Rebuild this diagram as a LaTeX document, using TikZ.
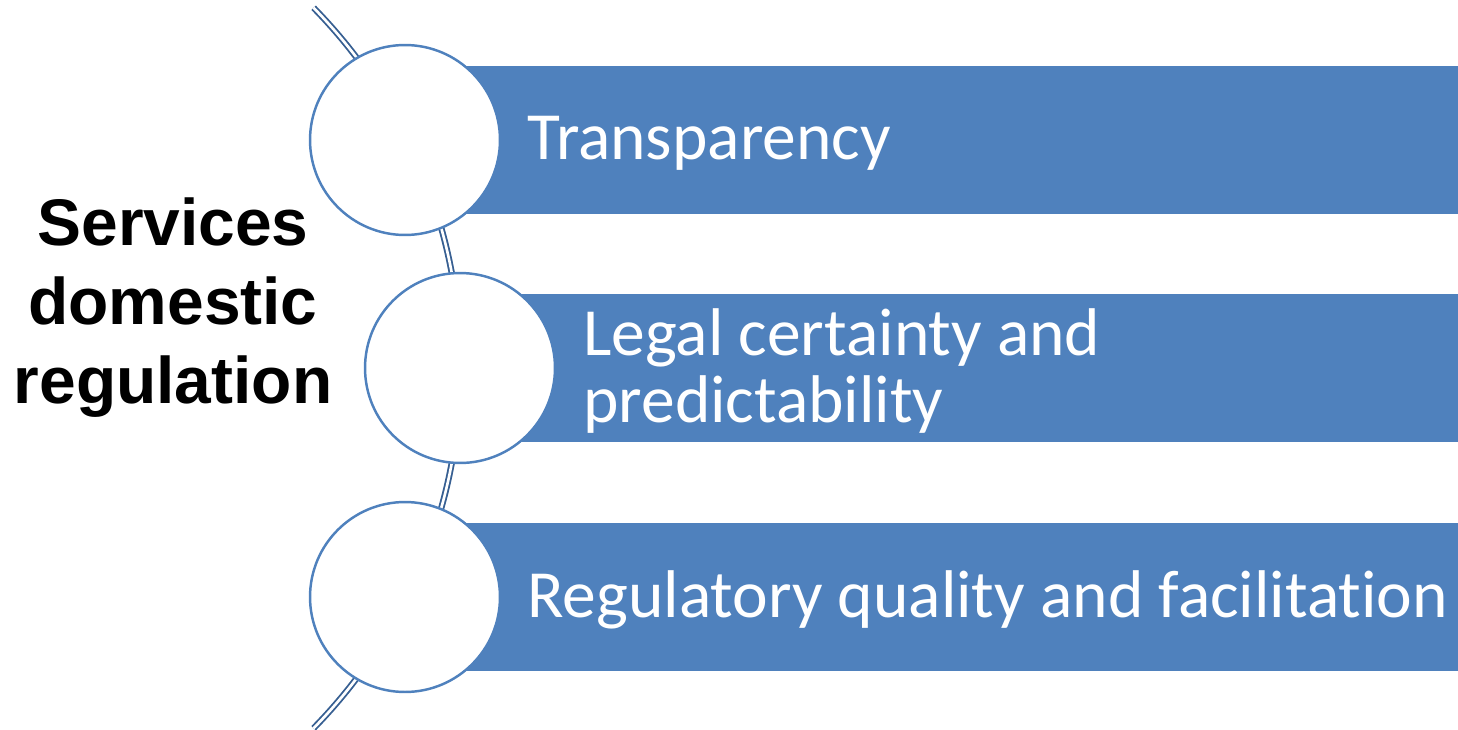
\documentclass[tikz,border=0pt]{standalone}
\usepackage{fontspec}
\setmainfont{Carlito}[Ligatures=NoCommon]
\newfontfamily\headfont{Liberation Sans}
\usetikzlibrary{positioning}

\definecolor{barblue}{HTML}{4F81BD}
\definecolor{linkblue}{HTML}{375F92}

\tikzset{
  bar/.style={fill=barblue, draw=none, minimum height=2.98cm, anchor=west, inner sep=0pt},
  caption/.style={align=left, anchor=west, inner sep=0pt, yshift=-0.06cm, text=white, font=\fontsize{38.4}{38}\selectfont},
  ring/.style={circle, draw=barblue, line width=1.4pt, fill=white, minimum size=3.8cm}
}

\begin{document}
\begin{tikzpicture}[x=0.02cm, y=-0.02cm]
		\useasboundingbox (0,0) rectangle (1458,730);
		% the band behind the rings
		\draw[linkblue, line width=3.6pt] (-54.3,368) ++(44.4:10.3cm) arc (44.4:-44.4:10.3cm);
		\draw[white, line width=1.5pt] (-54.3,368) ++(44.4:10.3cm) arc (44.4:-44.4:10.3cm);
		
		\node[bar, minimum width=19.86cm] (b1) at (465,140) {};
		\node[bar, minimum width=18.76cm] (b2) at (520,368) {};
		\node[bar, minimum width=19.86cm] (b3) at (465,597) {};
		
		\node[caption, right=1.24cm of b1.west] (t1) {Transparency};
		\node[caption, right=1.26cm of b2.west] (t2) {Legal certainty and\\predictability};
		\node[caption, right=1.24cm of b3.west] (t3) {Regulatory quality and facilitation};
		
		\node[ring] (r1) at (405,140) {};
		\node[ring] (r2) at (460,368) {};
		\node[ring] (r3) at (405,597) {};
		
		\node[align=center, font=\headfont\bfseries\fontsize{37.5}{45}\selectfont] (title) at (173,308) {Services\\domestic\\regulation};
\end{tikzpicture}
\end{document}
